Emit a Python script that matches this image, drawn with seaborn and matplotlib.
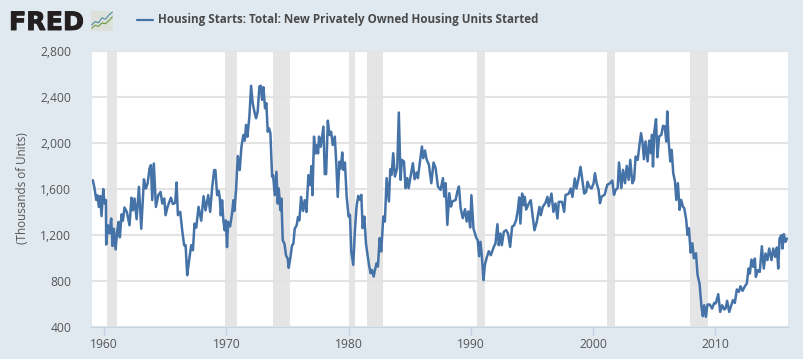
import numpy as np
import pandas as pd
import matplotlib
matplotlib.use('Agg')
import matplotlib.pyplot as plt
import matplotlib.patheffects as pe
import seaborn as sns

# values, decimal year / thousands of units
years_60s = [1959.07,1959.21,1959.35,1959.45,1959.56,1959.67,1959.78,1959.92,1960.03,1960.14,1960.16,1960.3,1960.44,1960.57,1960.68,1960.79,1960.93,1961.06,1961.17,1961.28,1961.42,1961.53,1961.66,1961.85,1962.07,1962.23,1962.35,1962.48,1962.65,1962.84,1963.03,1963.25,1963.41,1963.55,1963.71,1963.82,1963.93,1964.06,1964.23,1964.42,1964.61,1964.75,1964.91,1965.02,1965.18,1965.46,1965.62,1965.81,1965.92,1966.03,1966.22,1966.38,1966.54,1966.66,1966.79,1966.93,1967.12,1967.26,1967.39,1967.53,1967.72,1967.94,1968.13,1968.29,1968.51,1968.67,1968.84,1969.0,1969.1,1969.24,1969.37,1969.45,1969.54,1969.65,1969.75,1969.86,1969.95]
starts_60s = [1672,1600,1500,1540,1440,1535,1360,1595,1470,1500,1113,1280,1210,1340,1100,1250,1070,1225,1310,1175,1375,1320,1435,1397,1280,1520,1410,1513,1333,1615,1250,1680,1600,1643,1775,1803,1500,1817,1440,1540,1570,1470,1513,1368,1440,1520,1465,1475,1652,1368,1397,1238,1107,1107,846,962,1107,1063,1295,1260,1440,1320,1533,1410,1542,1397,1615,1760,1760,1542,1580,1527,1367,1498,1323,1236,1323]

years_70s = [1970.05,1970.14,1970.3,1970.46,1970.57,1970.65,1970.79,1970.93,1971.09,1971.23,1971.39,1971.5,1971.61,1971.72,1971.88,1972.02,1972.15,1972.32,1972.43,1972.56,1972.7,1972.81,1972.92,1973.03,1973.16,1973.27,1973.38,1973.49,1973.6,1973.74,1973.82,1973.96,1974.09,1974.2,1974.28,1974.42,1974.5,1974.61,1974.75,1974.88,1975.02,1975.1,1975.24,1975.37,1975.48,1975.59,1975.75,1975.86,1975.97,1976.11,1976.27,1976.41,1976.55,1976.71,1976.84,1976.96,1977.04,1977.17,1977.28,1977.42,1977.5,1977.58,1977.72,1977.94,1978.05,1978.16,1978.3,1978.43,1978.57,1978.7,1978.87,1979.0,1979.11,1979.25,1979.36,1979.48,1979.56,1979.7,1979.84]
starts_70s = [1090,1310,1270,1381,1498,1405,1590,1882,1760,1963,2065,2016,2153,2050,2225,2493,2342,2255,2211,2269,2487,2493,2371,2481,2298,2342,2094,2124,2080,1702,1716,1542,1745,1469,1600,1411,1512,1149,1120,1018,988,910,1003,1105,1120,1250,1280,1352,1323,1527,1405,1498,1396,1716,1629,1795,1542,2051,1905,1978,1905,2051,1963,2138,1725,1725,2190,2065,2094,1978,2051,1803,1527,1833,1774,1913,1762,1826,1530]

years_80s = [1980.0,1980.11,1980.22,1980.38,1980.52,1980.65,1980.79,1980.93,1981.04,1981.15,1981.29,1981.42,1981.53,1981.67,1981.8,1981.91,1982.05,1982.16,1982.29,1982.4,1982.54,1982.67,1982.84,1982.97,1983.11,1983.3,1983.41,1983.52,1983.65,1983.79,1983.98,1984.11,1984.25,1984.36,1984.53,1984.66,1984.8,1984.91,1985.05,1985.26,1985.4,1985.57,1985.67,1985.84,1986.0,1986.11,1986.25,1986.38,1986.57,1986.77,1986.95,1987.12,1987.31,1987.53,1987.72,1987.83,1987.94,1988.08,1988.24,1988.38,1988.49,1988.76,1988.9,1989.03,1989.17,1989.34,1989.53,1989.66,1989.8,1989.95]
starts_80s = [1356,1371,1052,936,1240,1443,1536,1501,1545,1255,1356,1124,1037,936,863,892,834,892,950,921,1168,1052,1356,1313,1690,1487,1768,1719,1907,1704,1777,2261,1675,1849,1835,1603,1690,1603,1690,1820,1681,1739,1690,1835,1965,1864,1930,1855,1806,1646,1826,1777,1617,1588,1690,1530,1646,1284,1559,1443,1487,1501,1574,1617,1429,1342,1420,1313,1400,1261]

years_90s = [1990.05,1990.22,1990.44,1990.57,1990.68,1990.79,1990.9,1991.04,1991.15,1991.28,1991.47,1991.64,1991.88,1992.02,1992.18,1992.29,1992.43,1992.54,1992.7,1992.89,1993.05,1993.22,1993.38,1993.55,1993.71,1993.85,1993.96,1994.06,1994.2,1994.34,1994.42,1994.53,1994.75,1994.91,1995.02,1995.21,1995.4,1995.62,1995.73,1995.89,1996.11,1996.27,1996.38,1996.6,1996.76,1996.93,1997.09,1997.2,1997.47,1997.64,1997.75,1998.02,1998.18,1998.32,1998.51,1998.65,1998.84,1998.98,1999.11,1999.28,1999.44,1999.55,1999.71,1999.88]
starts_90s = [1542,1252,1174,1150,1011,1136,1020,803,933,991,1055,1020,1092,1122,1290,1107,1208,1107,1223,1238,1208,1092,1267,1281,1325,1412,1522,1295,1556,1455,1527,1417,1470,1498,1397,1237,1310,1440,1368,1440,1475,1527,1446,1556,1397,1470,1339,1484,1484,1397,1542,1556,1600,1527,1687,1600,1701,1788,1687,1556,1571,1658,1614,1600]

years_00s = [2000.05,2000.16,2000.3,2000.46,2000.57,2000.71,2000.95,2001.17,2001.39,2001.58,2001.72,2001.85,2002.02,2002.13,2002.32,2002.46,2002.62,2002.76,2002.92,2003.05,2003.22,2003.36,2003.49,2003.66,2003.79,2003.93,2004.06,2004.17,2004.3,2004.47,2004.61,2004.74,2004.83,2004.91,2005.02,2005.16,2005.27,2005.41,2005.6,2005.73,2005.87,2006.0,2006.08,2006.19,2006.33,2006.44,2006.57,2006.71,2006.82,2006.95,2007.09,2007.22,2007.36,2007.47,2007.63,2007.74,2007.85,2007.99,2008.13,2008.26,2008.43,2008.56,2008.72,2008.88,2008.99,2009.1,2009.24,2009.37,2009.56,2009.75,2009.92]
starts_00s = [1646,1733,1646,1588,1472,1530,1545,1632,1646,1669,1545,1588,1603,1826,1603,1762,1646,1797,1675,1849,1646,1675,1878,1849,1965,2081,1994,1855,2009,1835,2017,1907,2067,1791,2096,2203,1872,2052,2067,2145,2139,2009,2270,2009,1835,1936,1733,1661,1501,1646,1414,1501,1443,1429,1327,1197,1255,1043,1124,994,1037,846,774,571,490,585,484,591,591,556,605]

years_10s = [2010.05,2010.25,2010.41,2010.57,2010.74,2010.85,2010.98,2011.15,2011.26,2011.45,2011.61,2011.77,2011.94,2012.07,2012.24,2012.43,2012.59,2012.73,2012.84,2012.97,2013.11,2013.25,2013.33,2013.49,2013.65,2013.82,2013.98,2014.12,2014.28,2014.42,2014.61,2014.75,2014.91,2015.05,2015.16,2015.27,2015.41,2015.51,2015.62,2015.76,2015.87]
starts_10s = [600,681,527,585,548,556,623,527,565,629,605,722,701,750,710,750,774,904,861,982,919,991,832,890,875,1098,904,1035,977,1078,977,1078,1006,1087,904,1165,1194,1078,1203,1136,1165]

recession_start = [1960.25,1969.92,1973.83,1980.0,1981.5,1990.5,2001.17,2007.92]
recession_end = [1961.08,1970.83,1975.17,1980.5,1982.83,1991.17,2001.83,2009.42]

y_ticks = [400,800,1200,1600,2000,2400,2800]
x_ticks = [1960,1970,1980,1990,2000,2010]
series_name = 'Housing Starts: Total: New Privately Owned Housing Units Started'
y_label = '(Thousands of Units)'

df = pd.DataFrame({
    'year': years_60s + years_70s + years_80s + years_90s + years_00s + years_10s,
    'starts': starts_60s + starts_70s + starts_80s + starts_90s + starts_00s + starts_10s,
})

W, H = 804, 359
BG = '#e1e9f0'
BLUE = '#4572a7'
TXT = '#555555'

sns.set_theme(style='white')
plt.rcParams['font.family'] = ['Open Sans', 'DejaVu Sans']

fig = plt.figure(figsize=(W/100, H/100), dpi=100, facecolor=BG)
ax = fig.add_axes([92/W, 1-326.5/H, 696/W, 276/H], facecolor='white')

for a, b in zip(recession_start, recession_end):
    ax.axvspan(a, b, color='#e5e5e5', lw=0, zorder=1)
ax.grid(axis='y', color='#e3e3e3', lw=1.5, zorder=2)
ax.set_axisbelow(False)
sns.lineplot(data=df, x='year', y='starts', estimator=None, sort=False, ax=ax,
             color=BLUE, lw=1.8, zorder=3)

ax.set_xlim(1959.0, 2015.96)
ax.set_ylim(400, 2800)
ax.set_xticks(x_ticks)
ax.set_yticks(y_ticks)
ax.set_yticklabels([f'{v:,}' for v in y_ticks])
ax.set_xlabel('')
ax.set_ylabel(y_label, fontsize=8.4, color=TXT, labelpad=0)
ax.yaxis.set_label_coords(-63/696, 0.5)
ax.tick_params(axis='x', length=6, width=1, color='#c0d0e0', labelsize=8.7,
               labelcolor=TXT, pad=2, bottom=True)
ax.tick_params(axis='y', length=0, labelsize=8.7, labelcolor=TXT, pad=15)
for s in ['top', 'left', 'right']:
    ax.spines[s].set_visible(False)
ax.spines['bottom'].set_color('#c0d0e0')
ax.spines['bottom'].set_linewidth(1.2)

# header: logo text, little icon, legend
fig.text(9/W, 1-30/H, 'FRED', fontsize=18.2, fontweight='bold', color='#231f20',
         family=['DejaVu Sans'], va='baseline', ha='left',
         path_effects=[pe.withStroke(linewidth=0.7, foreground='#231f20')])

icon = fig.add_axes([91/W, 1-31/H, 22/W, 20/H], facecolor='#dcdfda')
icon.plot([0,1,2,3,4,5,6], [2.6,4,3.5,5.6,5,6.8,8], color='#4a8fa8', lw=0.8)
icon.plot([0,1,2,3,4,5,6], [1.2,2.4,2,3.4,3.1,4.4,6], color='#6a9a3a', lw=0.8)
icon.set_xlim(-0.2, 6.2)
icon.set_ylim(0, 8.5)
icon.set_xticks([])
icon.set_yticks([])
for s in icon.spines.values():
    s.set_visible(False)

fig.add_artist(plt.Line2D([137/W, 153/W], [1-20/H, 1-20/H], color=BLUE, lw=1.6))
fig.text(158/W, 1-20/H, series_name, fontsize=8.37, fontweight='bold', color='#4a4a4a',
         va='center', ha='left')

fig.savefig('out.png', dpi=100, facecolor=BG)
